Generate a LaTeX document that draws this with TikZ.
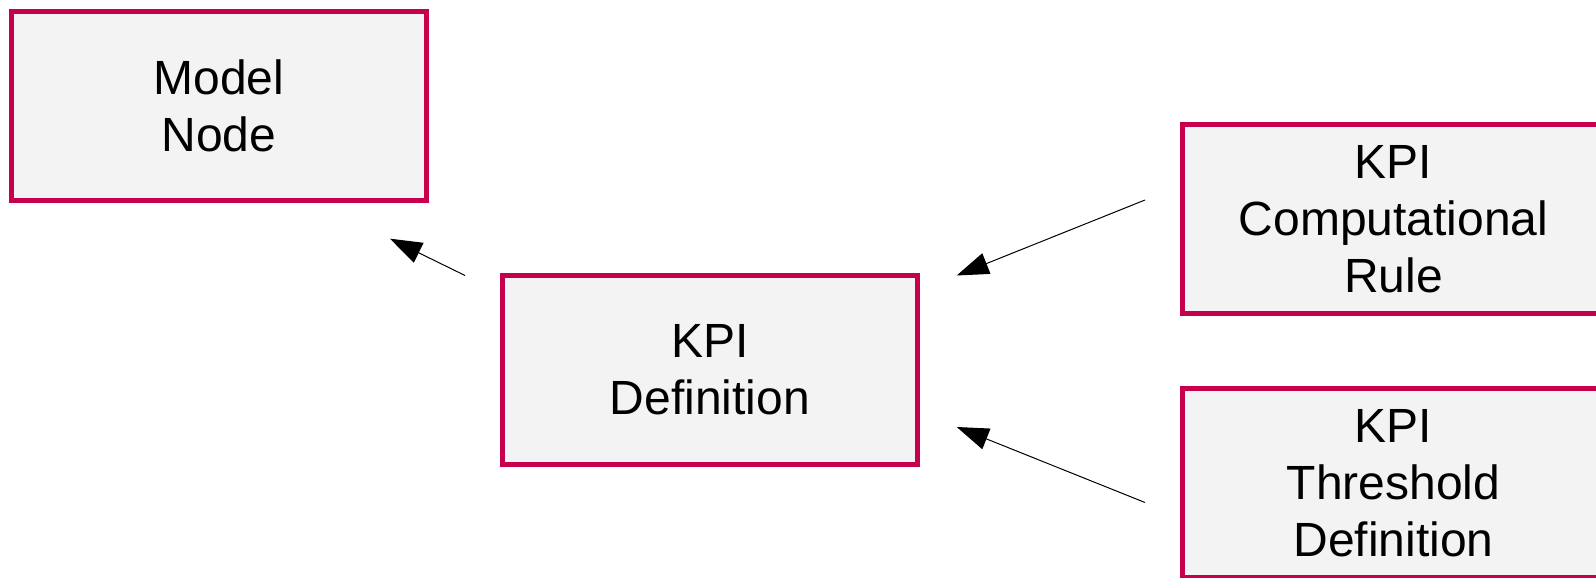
\documentclass[tikz,border=0pt]{standalone}
\usepackage{fontspec}
\setmainfont{Liberation Sans}
\usepackage{tikz}
\usetikzlibrary{arrows.meta, positioning}
\definecolor{boxred}{RGB}{198,0,76}
\definecolor{boxfill}{RGB}{243,243,243}
\tikzset{
    box/.style={draw=boxred, fill=boxfill, line width=2.5pt, rectangle,
      minimum width=207.5pt, minimum height=94.5pt, inner sep=0pt, outer sep=0pt,
      align=center, font=\fontsize{24pt}{28.5pt}\selectfont},
    widebox/.style={box, minimum width=211pt},
    link/.style={->, draw=black, line width=0.5pt},
}

\begin{document}
\begin{tikzpicture}
    \tikzset{
      >={Triangle[length=16pt, width=11pt]},
      every edge/.append style={link}
    }
    \useasboundingbox (0,0) rectangle (798pt,289pt);

    \node[box] (model) at (109.5pt,236pt) {Model\\Node};
    \node[box, below right=37.5pt and 38pt of model] (kpidef) {KPI\\Definition};
    \node[widebox, right=132.5pt of kpidef, yshift=75.5pt] (rule) {KPI\\Computational\\Rule};
    \node[widebox, below=37.75pt of rule] (thresh) {KPI\\Threshold\\Definition};

    \coordinate[left=18.75pt of kpidef.north west] (defout);
    \coordinate[below left=19.1pt and 18.25pt of model.south east] (modelin);
    \coordinate[above left=9.5pt and 18.75pt of rule.west] (ruleout);
    \coordinate[right=19.6pt of kpidef.north east] (defin1);
    \coordinate[below left=9.5pt and 18.75pt of thresh.west] (threshout);
    \coordinate[above right=18.75pt and 19.6pt of kpidef.south east] (defin2);

    \path (defout) edge (modelin);
    \path (ruleout) edge (defin1);
    \path (threshout) edge (defin2);
\end{tikzpicture}
\end{document}
